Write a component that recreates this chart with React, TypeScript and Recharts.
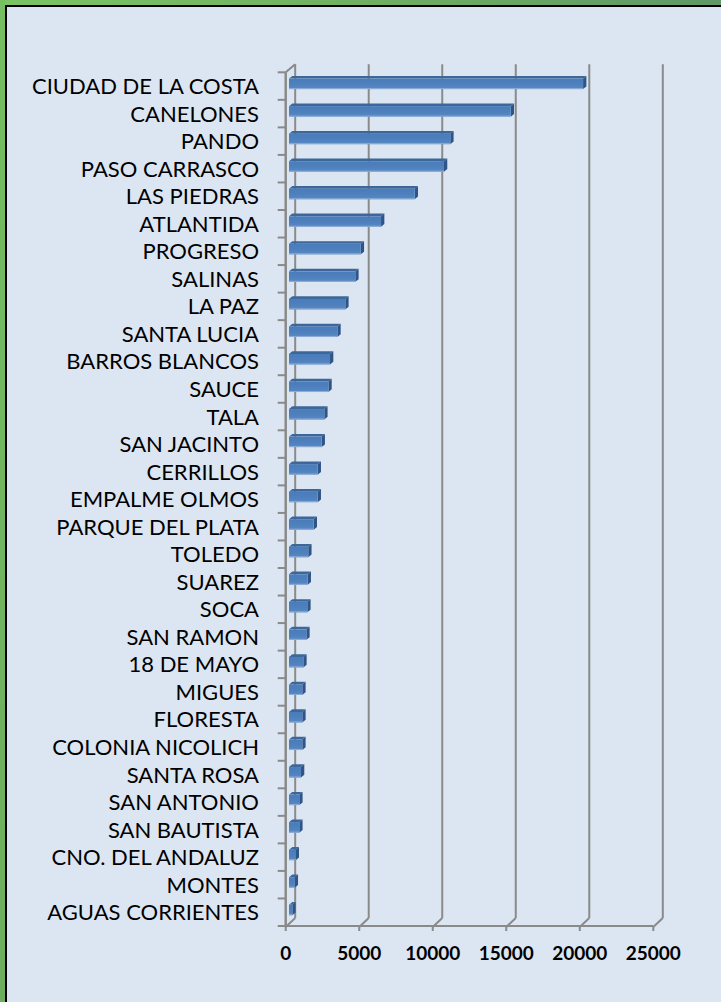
import React from 'react';
import { BarChart, Bar, XAxis, YAxis, CartesianGrid } from 'recharts';

const localidades = [
  'CIUDAD DE LA COSTA', 'CANELONES', 'PANDO', 'PASO CARRASCO', 'LAS PIEDRAS',
  'ATLANTIDA', 'PROGRESO', 'SALINAS', 'LA PAZ', 'SANTA LUCIA', 'BARROS BLANCOS',
  'SAUCE', 'TALA', 'SAN JACINTO', 'CERRILLOS', 'EMPALME OLMOS', 'PARQUE DEL PLATA',
  'TOLEDO', 'SUAREZ', 'SOCA', 'SAN RAMON', '18 DE MAYO', 'MIGUES', 'FLORESTA',
  'COLONIA NICOLICH', 'SANTA ROSA', 'SAN ANTONIO', 'SAN BAUTISTA',
  'CNO. DEL ANDALUZ', 'MONTES', 'AGUAS CORRIENTES'
];

const valores = [
  20000, 15080, 10970, 10540, 8550, 6260, 4880, 4510, 3830, 3290, 2790,
  2680, 2400, 2220, 1950, 1950, 1680, 1310, 1270, 1245, 1180, 975, 905,
  905, 905, 815, 700, 700, 455, 390, 225
];

const xTicks = [0, 5000, 10000, 15000, 20000, 25000];

const data = localidades.map((name, i) => ({ name, value: valores[i] }));

// plot geometry (front plane)
const W = 721;
const H = 1002;
const TOP = 72.3;
const BOTTOM = 926;
const LEFT = 285.7;
const RIGHT = 653.3;
const XAXIS_H = 40;
const YAXIS_W = 262;
const STEP = (BOTTOM - TOP) / localidades.length;

// 3d depth offsets
const DX = 9.5;
const DY = -8;
const BDX = 3.3;
const BDY = -2.7;

const gridColor = '#8a8a8a';

const Bar3D = (props: any) => {
  const { x, y, width, height } = props;
  if (width == null || height == null) return null;
  const fx = x + BDX;
  const fy = y + BDY;
  const w = Math.max(width, 0.5);
  return (
    <g>
      {/* top face */}
      <polygon
        points={`${fx},${fy} ${fx + BDX},${fy + BDY} ${fx + w + BDX},${fy + BDY} ${fx + w},${fy}`}
        fill="#3d6798"
      />
      {/* side face */}
      <polygon
        points={`${fx + w},${fy} ${fx + w + BDX},${fy + BDY} ${fx + w + BDX},${fy + height + BDY} ${fx + w},${fy + height}`}
        fill="#2f5586"
      />
      <rect x={fx} y={fy} width={w} height={height} fill="url(#barFront)" />
      <line x1={fx} x2={fx + w} y1={fy + height - 0.5} y2={fy + height - 0.5} stroke="#8eaed6" strokeWidth={1} />
    </g>
  );
};

const GridLine = (props: any) => {
  const { x1, y1, y2, index } = props;
  const bx = x1 + DX;
  return (
    <g key={`g-${index}`}>
      <line x1={bx} x2={bx} y1={y1 + DY} y2={y2 + DY} stroke={gridColor} strokeWidth={2} />
      <line x1={x1} x2={bx} y1={y2 + 1} y2={y2 + DY} stroke={gridColor} strokeWidth={2} />
      {index === 0 && (
        <g>
          <line x1={x1} x2={x1} y1={y1} y2={y2 + 1} stroke={gridColor} strokeWidth={2.5} />
          <line x1={x1} x2={bx} y1={y1} y2={y1 + DY} stroke={gridColor} strokeWidth={2} />
        </g>
      )}
    </g>
  );
};

const CategoryTick = (props: any) => {
  const { y, payload, index } = props;
  return (
    <g>
      {index === 0 && (
        <line x1={LEFT - 8} x2={LEFT} y1={y - STEP / 2} y2={y - STEP / 2} stroke={gridColor} strokeWidth={2} />
      )}
      <line x1={LEFT - 8} x2={LEFT} y1={y + STEP / 2} y2={y + STEP / 2} stroke={gridColor} strokeWidth={2} />
      <text x={259} y={y} dy={8} textAnchor="end" fill="#000" fontSize={22} fontFamily="Lato, sans-serif">
        {payload.value}
      </text>
    </g>
  );
};

export default function App() {
  return (
    <div
      style={{
        position: 'absolute',
        left: 0,
        top: 0,
        width: W,
        height: H,
        background: '#dce6f2',
        overflow: 'hidden'
      }}
    >
      <div style={{ position: 'absolute', left: 0, top: 0, width: W, height: 5, background: 'linear-gradient(90deg, #7cc462 0%, #6fb062 50%, #5e9966 100%)' }} />
      <div style={{ position: 'absolute', left: 0, top: 0, width: 4.5, height: H, background: 'linear-gradient(180deg, #76be60 0%, #6cae5e 100%)' }} />
      <div style={{ position: 'absolute', left: 4.5, top: 5, width: W - 4.5, height: 2, background: '#000' }} />
      <div style={{ position: 'absolute', left: 4.5, top: 5, width: 2, height: H - 5, background: '#000' }} />
      <div style={{ position: 'absolute', left: 0, top: 0 }}>
        <BarChart
          width={W}
          height={H}
          data={data}
          layout="vertical"
          margin={{ top: TOP, bottom: H - BOTTOM - XAXIS_H, left: LEFT - YAXIS_W, right: W - RIGHT }}
          barSize={10.5}
        >
          <defs>
            <linearGradient id="barFront" x1="0" y1="0" x2="0" y2="1">
              <stop offset="0%" stopColor="#4a7bbb" />
              <stop offset="60%" stopColor="#4f81bd" />
              <stop offset="100%" stopColor="#5a8ac6" />
            </linearGradient>
          </defs>
          <CartesianGrid horizontal={false} vertical={GridLine} />
          <XAxis
            type="number"
            domain={[0, 25000]}
            ticks={xTicks}
            interval={0}
            height={XAXIS_H}
            axisLine={{ stroke: gridColor, strokeWidth: 2 }}
            tickLine={{ stroke: gridColor, strokeWidth: 2 }}
            tickSize={5}
            tickMargin={16}
            tick={{ fill: '#000', fontSize: 19, fontWeight: 700, fontFamily: 'Lato, sans-serif' }}
          />
          <YAxis
            type="category"
            dataKey="name"
            width={YAXIS_W}
            axisLine={false}
            tickLine={false}
            interval={0}
            tick={<CategoryTick />}
          />
          <Bar dataKey="value" shape={<Bar3D />} isAnimationActive={false} />
        </BarChart>
      </div>
    </div>
  );
}
